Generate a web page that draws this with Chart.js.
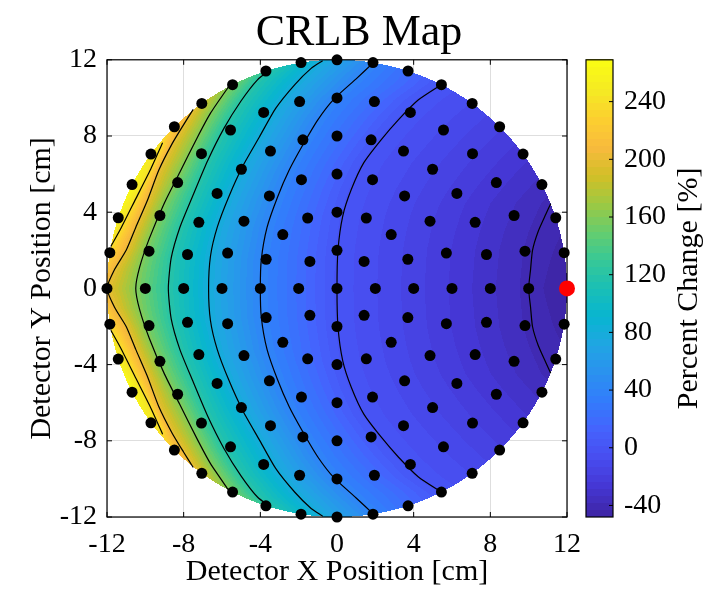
<!DOCTYPE html>
<html>
<head>
<meta charset="utf-8">
<script src="https://cdn.jsdelivr.net/npm/chart.js@4.4.1/dist/chart.umd.min.js"></script>
<style>
  html, body { margin: 0; padding: 0; background: #fff; }
  canvas { display: block; }
</style>
</head>
<body>
<canvas id="map" width="718" height="589"></canvas>
<script>
// detector rings: radius [cm] and number of detectors on each ring
const ringRadius = [0, 2, 4, 6, 8, 10, 12];
const ringCount = [1, 8, 16, 20, 28, 32, 40];

// source position [cm]
const sourceX = [12];
const sourceY = [0];

// contour levels [%] and the upper half (y >= 0) of each line as [x, y] in cm
const levels = [-40, 0, 40, 80, 120, 160, 200, 240];
const lineM40 = [[10, 0], [10.1, 1], [10.2, 2], [10.5, 3], [10.9, 3.9], [11.15, 4.45]];
const line0 = [[0, 0], [0.05, 2], [0.3, 3.8], [0.75, 5.2], [1.4, 6.6], [2.3, 7.8], [3.2, 8.85], [4.25, 9.9], [5.45, 10.7]];
const line40 = [[-4, 0], [-3.95, 1.5], [-3.65, 3.2], [-3.1, 4.8], [-2.5, 6.2], [-1.8, 7.5], [-1.0, 8.85], [-0.15, 9.95], [1.0, 11.0], [1.9, 11.85]];
const line80 = [[-6.7, 0], [-6.6, 1.7], [-6.25, 3.2], [-5.65, 4.8], [-4.9, 6.45], [-4.05, 7.95], [-3.2, 9.45], [-2.2, 10.7], [-1.35, 11.55], [-0.75, 11.95]];
const line120 = [[-8.8, 0], [-8.65, 1.6], [-8.2, 3.2], [-7.55, 4.8], [-6.75, 6.7], [-5.9, 8.4], [-5.0, 9.85], [-4.15, 10.95], [-3.45, 11.5]];
const line160 = [[-10.5, 0], [-10.3, 1.1], [-9.8, 2.6], [-9.0, 4.5], [-8.2, 6.1], [-7.3, 7.9], [-6.6, 9.2], [-5.65, 10.6]];
const line200 = [[-12, 0], [-11.6, 1.0], [-11.0, 2.0], [-10.5, 3.2], [-9.9, 4.6], [-9.3, 6.2], [-8.6, 7.6], [-8.0, 8.6], [-7.5, 9.4]];
const line240 = [[-11.8, 2.2], [-11.3, 3.1], [-10.5, 4.7], [-9.75, 6.2], [-9.1, 7.65]];
const contourPaths = [lineM40, line0, line40, line80, line120, line160, line200, line240];

// percent change along the detector rim, by angle [deg] from +x (mirrored below y = 0)
const rimAngle = [0, 21.8, 63, 80.9, 93.6, 106.7, 118, 128.6, 139.9, 155, 169.4, 180];
const rimValue = [-48, -40, 0, 40, 80, 120, 160, 200, 240, 266, 240, 200];

// colour limits and colorbar ticks
const colorMin = -48;
const colorMax = 269;
const colorTickStep = 40;

const SERIF = '"Liberation Serif", "Times New Roman", serif';
Chart.defaults.font.family = SERIF;
Chart.defaults.color = '#000';

// parula, sampled every fourth entry of the 64 colour map
const parulaKeys = [
  [62, 38, 168], [69, 55, 213], [72, 77, 240], [69, 99, 253], [50, 124, 252],
  [43, 145, 239], [32, 165, 227], [8, 181, 208], [25, 191, 182], [55, 200, 151],
  [100, 205, 111], [157, 201, 67], [209, 191, 39], [248, 186, 61], [252, 207, 48],
  [245, 233, 36], [249, 251, 21]
];
const parula = [];
for (let i = 0; i < 64; i++) {
  const t = i / 63 * (parulaKeys.length - 1);
  const k = Math.min(Math.floor(t), parulaKeys.length - 2);
  const f = t - k;
  parula.push(parulaKeys[k].map((c, j) => Math.round(c + f * (parulaKeys[k + 1][j] - c))));
}
function colorFor(v) {
  let idx = Math.floor((v - colorMin) / (colorMax - colorMin) * 64);
  return parula[Math.max(0, Math.min(63, idx))];
}

function rimAt(deg) {
  for (let i = 0; i < rimAngle.length - 1; i++) {
    if (deg <= rimAngle[i + 1]) {
      const f = (deg - rimAngle[i]) / (rimAngle[i + 1] - rimAngle[i]);
      return rimValue[i] + f * (rimValue[i + 1] - rimValue[i]);
    }
  }
  return rimValue[rimValue.length - 1];
}

function crossing(path, ay) {
  for (let i = 0; i < path.length - 1; i++) {
    const [x0, y0] = path[i], [x1, y1] = path[i + 1];
    if (ay >= y0 && ay <= y1) {
      const f = y1 === y0 ? 0 : (ay - y0) / (y1 - y0);
      return x0 + f * (x1 - x0);
    }
  }
  return null;
}

// known values along one row: both rim ends plus every contour crossing
function rowKnots(yv) {
  const ay = Math.abs(yv);
  const xr = Math.sqrt(Math.max(0, 144 - ay * ay));
  const th = Math.atan2(ay, xr) * 180 / Math.PI;
  const knots = [[-xr, rimAt(180 - th)], [xr, rimAt(th)]];
  contourPaths.forEach((p, k) => {
    const x = crossing(p, ay);
    if (x !== null && x > -xr && x < xr) knots.push([x, levels[k]]);
  });
  knots.sort((a, b) => a[0] - b[0]);
  return knots;
}

function valueAt(knots, xv) {
  for (let i = 0; i < knots.length - 1; i++) {
    if (xv <= knots[i + 1][0]) {
      const [x0, v0] = knots[i], [x1, v1] = knots[i + 1];
      const f = x1 === x0 ? 0 : (xv - x0) / (x1 - x0);
      return v0 + f * (v1 - v0);
    }
  }
  return knots[knots.length - 1][1];
}

// shaded disk, axes box and inward tick marks
const surfacePlugin = {
  id: 'surface',
  beforeDatasetsDraw(chart) {
    const { ctx, chartArea: a, scales: { x, y } } = chart;
    const left = Math.round(a.left), top = Math.round(a.top);
    const w = Math.round(a.right) - left, h = Math.round(a.bottom) - top;
    const off = document.createElement('canvas');
    off.width = w; off.height = h;
    const octx = off.getContext('2d');
    const img = octx.createImageData(w, h);
    for (let j = 0; j < h; j++) {
      const yv = y.getValueForPixel(top + j + 0.5);
      if (Math.abs(yv) > 12) continue;
      const knots = rowKnots(yv);
      const xr = Math.sqrt(144 - yv * yv);
      for (let i = 0; i < w; i++) {
        const xv = x.getValueForPixel(left + i + 0.5);
        if (Math.abs(xv) > xr) continue;
        const c = colorFor(valueAt(knots, xv));
        const o = (j * w + i) * 4;
        img.data[o] = c[0]; img.data[o + 1] = c[1]; img.data[o + 2] = c[2]; img.data[o + 3] = 255;
      }
    }
    octx.putImageData(img, 0, 0);
    ctx.drawImage(off, left, top);

    ctx.save();
    ctx.strokeStyle = '#000';
    ctx.lineWidth = 1.2;
    ctx.strokeRect(a.left, a.top, a.right - a.left, a.bottom - a.top);
    ctx.lineWidth = 1;
    ctx.beginPath();
    x.ticks.forEach(t => {
      const px = x.getPixelForValue(t.value);
      ctx.moveTo(px, a.bottom); ctx.lineTo(px, a.bottom - 5);
      ctx.moveTo(px, a.top); ctx.lineTo(px, a.top + 5);
    });
    y.ticks.forEach(t => {
      const py = y.getPixelForValue(t.value);
      ctx.moveTo(a.left, py); ctx.lineTo(a.left + 5, py);
      ctx.moveTo(a.right, py); ctx.lineTo(a.right - 5, py);
    });
    ctx.stroke();
    ctx.restore();
  }
};

// colorbar drawn on the 'cb' scale
const colorbarPlugin = {
  id: 'colorbar',
  afterDraw(chart) {
    const { ctx, chartArea: a, scales: { cb } } = chart;
    const x0 = a.right + 19, x1 = a.right + 46;
    ctx.save();
    for (let k = 0; k < 64; k++) {
      const v0 = colorMin + k * (colorMax - colorMin) / 64;
      const v1 = colorMin + (k + 1) * (colorMax - colorMin) / 64;
      const p0 = cb.getPixelForValue(v0), p1 = cb.getPixelForValue(v1);
      const c = parula[k];
      ctx.fillStyle = `rgb(${c[0]},${c[1]},${c[2]})`;
      ctx.fillRect(x0, Math.floor(p1), x1 - x0, Math.ceil(p0) - Math.floor(p1));
    }
    ctx.strokeStyle = '#000';
    ctx.lineWidth = 1.2;
    ctx.strokeRect(x0, cb.top, x1 - x0, cb.bottom - cb.top);
    ctx.lineWidth = 1;
    ctx.beginPath();
    cb.ticks.forEach(t => {
      const py = cb.getPixelForValue(t.value);
      ctx.moveTo(x1, py); ctx.lineTo(x1 - 4, py);
    });
    ctx.stroke();
    ctx.translate(689, (cb.top + cb.bottom) / 2);
    ctx.rotate(-Math.PI / 2);
    ctx.fillStyle = '#000';
    ctx.font = '30px ' + SERIF;
    ctx.textAlign = 'center';
    ctx.textBaseline = 'middle';
    ctx.fillText('Percent Change [%]', 0, 0);
    ctx.restore();
  }
};

const datasets = [];
const contourStyle = { showLine: true, pointRadius: 0, borderColor: '#000', borderWidth: 1.2, tension: 0.2, fill: false, order: 3 };
contourPaths.forEach(path => {
  const upper = path.map(([px, py]) => ({ x: px, y: py }));
  const lower = path.slice().reverse().map(([px, py]) => ({ x: px, y: -py }));
  if (path[0][1] === 0) {
    datasets.push({ ...contourStyle, data: lower.concat(upper.slice(1)) });
  } else {
    datasets.push({ ...contourStyle, data: upper });
    datasets.push({ ...contourStyle, data: lower });
  }
});

const detectors = [];
ringRadius.forEach((r, k) => {
  for (let i = 0; i < ringCount[k]; i++) {
    const ang = 2 * Math.PI * i / ringCount[k];
    detectors.push({ x: r * Math.cos(ang), y: r * Math.sin(ang) });
  }
});
datasets.push({ data: detectors, pointRadius: 5.5, backgroundColor: '#000', borderWidth: 0, clip: false, order: 2 });
datasets.push({ data: sourceX.map((sx, i) => ({ x: sx, y: sourceY[i] })), pointRadius: 8, backgroundColor: '#ff0000', borderWidth: 0, clip: false, order: 1 });

new Chart(document.getElementById('map'), {
  type: 'scatter',
  data: { datasets },
  options: {
    responsive: false,
    animation: false,
    devicePixelRatio: 1,
    events: [],
    layout: { padding: 0 },
    plugins: {
      legend: { display: false },
      tooltip: { enabled: false },
      title: {
        display: true,
        text: 'CRLB Map',
        color: '#000',
        font: { size: 44, weight: 'normal', family: SERIF },
        padding: { top: 7, bottom: 0 }
      }
    },
    scales: {
      x: {
        type: 'linear', min: -12, max: 12,
        ticks: { stepSize: 4, padding: 11, maxRotation: 0, font: { size: 28 } },
        grid: { color: '#dedede', drawTicks: false },
        border: { display: false },
        title: { display: true, text: 'Detector X Position [cm]', font: { size: 30, lineHeight: 1.1 }, padding: 0 },
        afterFit(s) { s.height = 72; }
      },
      y: {
        type: 'linear', min: -12, max: 12,
        ticks: { stepSize: 4, padding: 10, font: { size: 28 } },
        grid: { color: '#dedede', drawTicks: false },
        border: { display: false },
        title: { display: true, text: 'Detector Y Position [cm]', font: { size: 30 }, padding: { top: 24, bottom: 0 } },
        afterFit(s) { s.width = 107; }
      },
      cb: {
        type: 'linear', position: 'right', min: colorMin, max: colorMax,
        ticks: { stepSize: colorTickStep, includeBounds: false, padding: 0, font: { size: 28 } },
        // tick length only offsets the labels past the colour strip; nothing is drawn
        grid: { display: false, drawTicks: true, tickLength: 57 },
        border: { display: false },
        afterFit(s) { s.width = 151; }
      }
    }
  },
  plugins: [surfacePlugin, colorbarPlugin]
});
</script>
</body>
</html>
